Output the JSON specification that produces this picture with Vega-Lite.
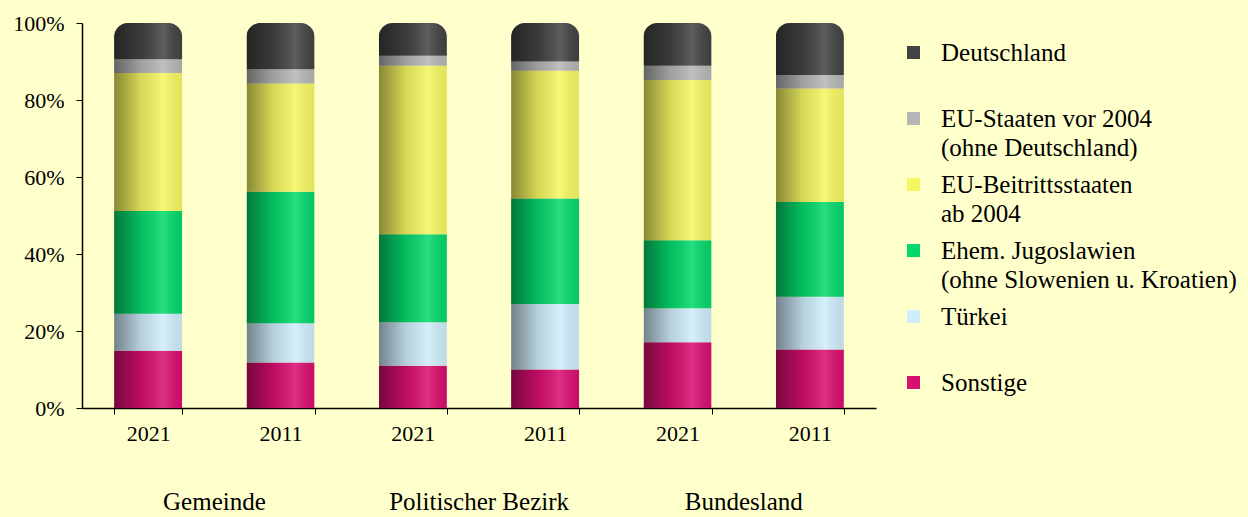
{
  "$schema": "https://vega.github.io/schema/vega-lite/v6.json",
  "autosize": {"type": "none"},
  "width": 794,
  "height": 385,
  "padding": {"left": 82, "top": 23, "right": 372, "bottom": 109},
  "background": "#FFFFCC",
  "config": {
    "view": {"stroke": null},
    "font": "Liberation Serif",
    "style": {"guide-label": {"lineHeight": 29}}
  },
  "datasets": {
    "anteile": [
      {"bar": "Gemeinde 2021", "kategorie": "Sonstige", "ord": 1, "wert": 14.9},
      {"bar": "Gemeinde 2021", "kategorie": "Türkei", "ord": 2, "wert": 9.6},
      {"bar": "Gemeinde 2021", "kategorie": "Ehem. Jugoslawien (ohne Slowenien u. Kroatien)", "ord": 3, "wert": 26.7},
      {"bar": "Gemeinde 2021", "kategorie": "EU-Beitrittsstaaten ab 2004", "ord": 4, "wert": 35.8},
      {"bar": "Gemeinde 2021", "kategorie": "EU-Staaten vor 2004 (ohne Deutschland)", "ord": 5, "wert": 3.6},
      {"bar": "Gemeinde 2021", "kategorie": "Deutschland", "ord": 6, "wert": 9.4},
      {"bar": "Gemeinde 2011", "kategorie": "Sonstige", "ord": 1, "wert": 11.8},
      {"bar": "Gemeinde 2011", "kategorie": "Türkei", "ord": 2, "wert": 10.2},
      {"bar": "Gemeinde 2011", "kategorie": "Ehem. Jugoslawien (ohne Slowenien u. Kroatien)", "ord": 3, "wert": 34.2},
      {"bar": "Gemeinde 2011", "kategorie": "EU-Beitrittsstaaten ab 2004", "ord": 4, "wert": 28.1},
      {"bar": "Gemeinde 2011", "kategorie": "EU-Staaten vor 2004 (ohne Deutschland)", "ord": 5, "wert": 3.7},
      {"bar": "Gemeinde 2011", "kategorie": "Deutschland", "ord": 6, "wert": 12.0},
      {"bar": "Politischer Bezirk 2021", "kategorie": "Sonstige", "ord": 1, "wert": 11.0},
      {"bar": "Politischer Bezirk 2021", "kategorie": "Türkei", "ord": 2, "wert": 11.3},
      {"bar": "Politischer Bezirk 2021", "kategorie": "Ehem. Jugoslawien (ohne Slowenien u. Kroatien)", "ord": 3, "wert": 22.8},
      {"bar": "Politischer Bezirk 2021", "kategorie": "EU-Beitrittsstaaten ab 2004", "ord": 4, "wert": 43.8},
      {"bar": "Politischer Bezirk 2021", "kategorie": "EU-Staaten vor 2004 (ohne Deutschland)", "ord": 5, "wert": 2.6},
      {"bar": "Politischer Bezirk 2021", "kategorie": "Deutschland", "ord": 6, "wert": 8.5},
      {"bar": "Politischer Bezirk 2011", "kategorie": "Sonstige", "ord": 1, "wert": 10.0},
      {"bar": "Politischer Bezirk 2011", "kategorie": "Türkei", "ord": 2, "wert": 17.0},
      {"bar": "Politischer Bezirk 2011", "kategorie": "Ehem. Jugoslawien (ohne Slowenien u. Kroatien)", "ord": 3, "wert": 27.4},
      {"bar": "Politischer Bezirk 2011", "kategorie": "EU-Beitrittsstaaten ab 2004", "ord": 4, "wert": 33.2},
      {"bar": "Politischer Bezirk 2011", "kategorie": "EU-Staaten vor 2004 (ohne Deutschland)", "ord": 5, "wert": 2.4},
      {"bar": "Politischer Bezirk 2011", "kategorie": "Deutschland", "ord": 6, "wert": 10.0},
      {"bar": "Bundesland 2021", "kategorie": "Sonstige", "ord": 1, "wert": 17.1},
      {"bar": "Bundesland 2021", "kategorie": "Türkei", "ord": 2, "wert": 8.8},
      {"bar": "Bundesland 2021", "kategorie": "Ehem. Jugoslawien (ohne Slowenien u. Kroatien)", "ord": 3, "wert": 17.7},
      {"bar": "Bundesland 2021", "kategorie": "EU-Beitrittsstaaten ab 2004", "ord": 4, "wert": 41.6},
      {"bar": "Bundesland 2021", "kategorie": "EU-Staaten vor 2004 (ohne Deutschland)", "ord": 5, "wert": 3.7},
      {"bar": "Bundesland 2021", "kategorie": "Deutschland", "ord": 6, "wert": 11.1},
      {"bar": "Bundesland 2011", "kategorie": "Sonstige", "ord": 1, "wert": 15.2},
      {"bar": "Bundesland 2011", "kategorie": "Türkei", "ord": 2, "wert": 13.7},
      {"bar": "Bundesland 2011", "kategorie": "Ehem. Jugoslawien (ohne Slowenien u. Kroatien)", "ord": 3, "wert": 24.6},
      {"bar": "Bundesland 2011", "kategorie": "EU-Beitrittsstaaten ab 2004", "ord": 4, "wert": 29.5},
      {"bar": "Bundesland 2011", "kategorie": "EU-Staaten vor 2004 (ohne Deutschland)", "ord": 5, "wert": 3.5},
      {"bar": "Bundesland 2011", "kategorie": "Deutschland", "ord": 6, "wert": 13.5}
    ],
    "gruppen": [
      {"bar": "Gemeinde 2011", "gruppe": "Gemeinde"},
      {"bar": "Politischer Bezirk 2011", "gruppe": "Politischer Bezirk"},
      {"bar": "Bundesland 2011", "gruppe": "Bundesland"}
    ]
  },
  "layer": [
    {
      "data": {"name": "anteile"},
      "mark": {"type": "bar", "cornerRadiusTopLeft": 14, "cornerRadiusTopRight": 14},
      "encoding": {
        "x": {
          "field": "bar",
          "type": "nominal",
          "sort": null,
          "scale": {"paddingInner": 0.485, "paddingOuter": 0.2425},
          "axis": {
            "title": null,
            "labelExpr": "slice(datum.label, -4)",
            "labelAngle": 0,
            "labelFontSize": 22,
            "labelColor": "#000000",
            "labelPadding": 9,
            "tickBand": "extent",
            "tickSize": 6,
            "tickColor": "#000000",
            "domainColor": "#000000",
            "domainWidth": 1.5
          }
        },
        "y": {
          "field": "wert",
          "type": "quantitative",
          "stack": "normalize",
          "scale": {"domain": [0, 1]},
          "axis": {
            "title": null,
            "values": [0, 0.2, 0.4, 0.6, 0.8, 1],
            "format": ".0%",
            "grid": false,
            "labelFontSize": 22,
            "labelColor": "#000000",
            "labelPadding": 12,
            "tickSize": 6,
            "tickColor": "#000000",
            "domainColor": "#000000",
            "domainWidth": 1.5
          }
        },
        "order": {"field": "ord", "type": "quantitative", "sort": "ascending"},
        "color": {
          "field": "kategorie",
          "type": "nominal",
          "scale": {
            "domain": [
              "Deutschland",
              "EU-Staaten vor 2004 (ohne Deutschland)",
              "EU-Beitrittsstaaten ab 2004",
              "Ehem. Jugoslawien (ohne Slowenien u. Kroatien)",
              "Türkei",
              "Sonstige"
            ],
            "range": ["#434343", "#b6b6b6", "#f6f662", "#04d86c", "#cfedfb", "#d80e70"]
          },
          "legend": {
            "title": null,
            "orient": "none",
            "legendX": 819,
            "legendY": 17,
            "padding": 0,
            "symbolType": "square",
            "symbolSize": 169,
            "symbolStrokeWidth": 0,
            "symbolOpacity": 1,
            "labelFontSize": 25,
            "labelColor": "#000000",
            "labelBaseline": "middle",
            "labelOffset": 15,
            "labelLimit": 400,
            "rowPadding": 11,
            "labelExpr": "datum.label == 'Deutschland' ? ['Deutschland', ''] : datum.label == 'EU-Staaten vor 2004 (ohne Deutschland)' ? ['EU-Staaten vor 2004', '(ohne Deutschland)'] : datum.label == 'EU-Beitrittsstaaten ab 2004' ? ['EU-Beitrittsstaaten', 'ab 2004'] : datum.label == 'Türkei' ? ['Türkei', ''] : datum.label == 'Sonstige' ? ['Sonstige', ''] : ['Ehem. Jugoslawien', '(ohne Slowenien u. Kroatien)']"
          }
        }
      }
    },
    {
      "data": {"name": "anteile"},
      "mark": {
        "type": "bar",
        "cornerRadiusTopLeft": 14,
        "cornerRadiusTopRight": 14,
        "color": {
          "gradient": "linear",
          "x1": 0, "x2": 1, "y1": 0, "y2": 0,
          "stops": [
            {"offset": 0, "color": "rgba(0,0,0,0.45)"},
            {"offset": 0.4, "color": "rgba(0,0,0,0.12)"},
            {"offset": 0.72, "color": "rgba(255,255,255,0.14)"},
            {"offset": 1, "color": "rgba(0,0,0,0.08)"}
          ]
        }
      },
      "encoding": {
        "x": {"field": "bar", "type": "nominal", "sort": null},
        "y": {"field": "wert", "type": "quantitative", "stack": "normalize"},
        "order": {"field": "ord", "type": "quantitative", "sort": "ascending"},
        "detail": {"field": "kategorie", "type": "nominal"}
      }
    },
    {
      "data": {"name": "gruppen"},
      "mark": {"type": "text", "fontSize": 25, "color": "#000000", "baseline": "alphabetic", "align": "center", "dx": -32, "dy": 102},
      "encoding": {
        "x": {"field": "bar", "type": "nominal", "sort": null, "bandPosition": 0},
        "y": {"datum": 0},
        "text": {"field": "gruppe"}
      }
    }
  ]
}
